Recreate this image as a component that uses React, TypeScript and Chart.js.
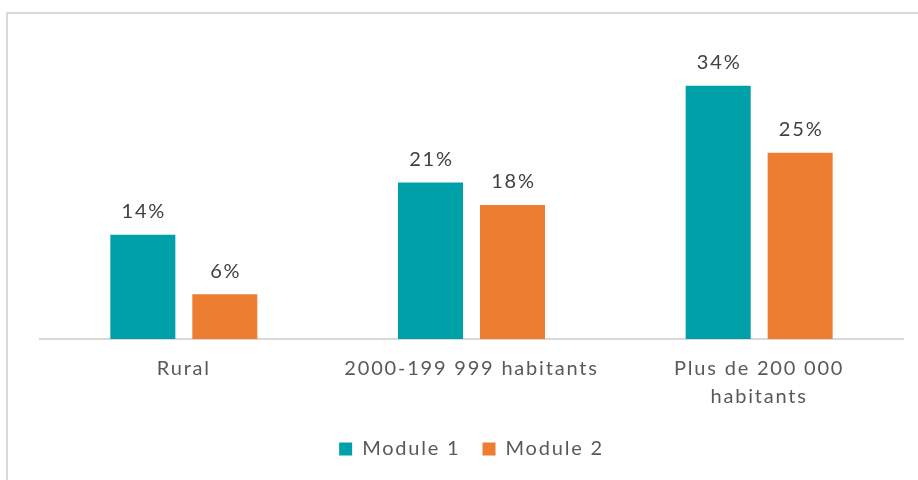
import { useEffect, useRef } from "react";
import { Chart, registerables } from "chart.js";

Chart.register(...registerables);

// Share of respondents by settlement size, per module
const categories: (string | string[])[] = [
  "Rural",
  "2000-199 999 habitants",
  ["Plus de 200 000", "habitants"],
];
const module1Values = [14, 21, 34];
const module2Values = [6, 18, 25];
const seriesNames = ["Module 1", "Module 2"];

const TEAL = "#00A0A9";
const ORANGE = "#ED7D31";
const TEXT = "#595959";
const LABEL = "#404040";
const FONT = "Lato, 'Open Sans', sans-serif";
const SPACING = "1.8px";

// Wider tracking for every text the chart measures and draws
const spacingPlugin = {
  id: "letterSpacing",
  beforeUpdate(chart: any) {
    chart.ctx.letterSpacing = SPACING;
  },
  beforeLayout(chart: any) {
    chart.ctx.letterSpacing = SPACING;
  },
  beforeDraw(chart: any) {
    chart.ctx.letterSpacing = SPACING;
  },
};

// Value labels above each bar
const valueLabels = {
  id: "valueLabels",
  afterDatasetsDraw(chart: any) {
    const ctx = chart.ctx;
    ctx.save();
    ctx.letterSpacing = SPACING;
    ctx.font = `20px ${FONT}`;
    ctx.fillStyle = LABEL;
    ctx.textAlign = "center";
    ctx.textBaseline = "middle";
    chart.data.datasets.forEach((ds: any, i: number) => {
      const meta = chart.getDatasetMeta(i);
      meta.data.forEach((bar: any, j: number) => {
        ctx.fillText(`${ds.data[j]}%`, bar.x + 1, bar.y - 23);
      });
    });
    ctx.restore();
  },
};

// Light frame around the figure
const frame = {
  id: "frame",
  afterDraw(chart: any) {
    const ctx = chart.ctx;
    ctx.save();
    ctx.strokeStyle = "#D9D9D9";
    ctx.lineWidth = 2;
    ctx.strokeRect(7, 13, 1200, 1200);
    ctx.restore();
  },
};

export default function App() {
  const canvasRef = useRef<HTMLCanvasElement | null>(null);

  useEffect(() => {
    if (!canvasRef.current) return;
    const chart = new Chart(canvasRef.current, {
      type: "bar",
      data: {
        labels: categories,
        datasets: [
          {
            label: seriesNames[0],
            data: module1Values,
            backgroundColor: TEAL,
            categoryPercentage: 0.57,
            barPercentage: 0.793,
          },
          {
            label: seriesNames[1],
            data: module2Values,
            backgroundColor: ORANGE,
            categoryPercentage: 0.57,
            barPercentage: 0.793,
          },
        ],
      },
      options: {
        responsive: false,
        animation: false,
        layout: { padding: { left: 40, right: 15, top: 41, bottom: 11 } },
        plugins: {
          legend: {
            position: "bottom",
            labels: {
              boxWidth: 13,
              boxHeight: 13,
              padding: 22,
              color: TEXT,
              font: { family: FONT, size: 20 },
            },
          },
          tooltip: { enabled: false },
        },
        scales: {
          x: {
            grid: { display: false },
            border: { display: true, color: "#D9D9D9", width: 2 },
            ticks: {
              color: TEXT,
              font: { family: FONT, size: 20, lineHeight: 1.4 },
              padding: 8,
              maxRotation: 0,
              autoSkip: false,
            },
            afterFit(scale: any) {
              scale.height = 78;
            },
          },
          y: {
            display: false,
            min: 0,
            max: 40,
          },
        },
      },
      plugins: [spacingPlugin, valueLabels, frame],
    });
    return () => chart.destroy();
  }, []);

  return (
    <div style={{ position: "absolute", left: 0, top: 0, width: 918, height: 480, background: "#fff" }}>
      <canvas ref={canvasRef} width={918} height={480} style={{ display: "block" }} />
    </div>
  );
}
